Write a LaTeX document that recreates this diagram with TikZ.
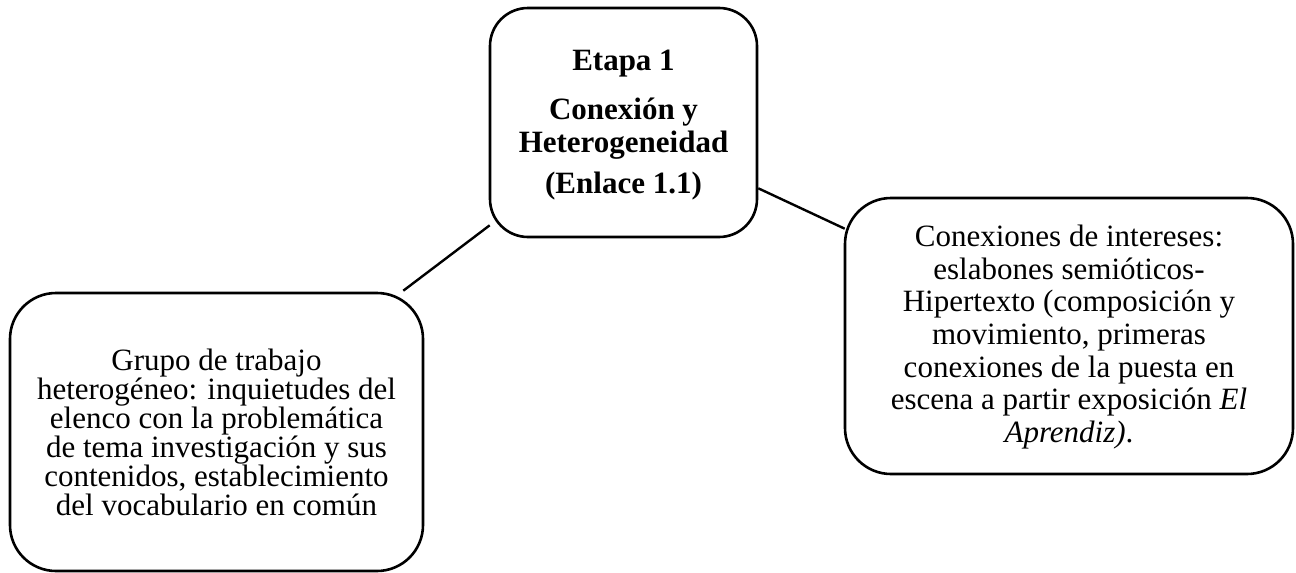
\documentclass[tikz,border=0pt]{standalone}
\usepackage{fontspec}
\setmainfont{Liberation Serif}
\AtBeginDocument{\global\lineskiplimit=-100pt\relax}
\begin{document}
\begin{tikzpicture}[x=1pt,y=-1pt,
  box/.style={draw, line width=2.6pt, rounded corners=#1, inner sep=0pt},
  body/.style={align=center, inner sep=0pt, font=\fontsize{31}{29}\selectfont},
  loose/.style={align=center, inner sep=0pt, font=\fontsize{31}{32.7}\selectfont},
  head/.style={align=center, inner sep=0pt, font=\fontsize{31}{33}\selectfont\bfseries},
  link/.style={line width=2.4pt}]
\useasboundingbox (0,0) rectangle (1296,573);

% stage box
\node[box=38pt, minimum width=267pt, minimum height=229pt] (etapa) at (623.5,122.5) {};
\node[head] (etapatxt) at ([yshift=-3pt]etapa.center)
  {Etapa 1\\[16pt] Conexión y\\ Heterogeneidad\\[8pt] (Enlace 1.1)};

% left box
\node[box=46pt, minimum width=413pt, minimum height=278pt] (grupo) at (216.5,432) {};
\node[body] (grupotxt) at (grupo.center)
  {Grupo de trabajo\\ heterogéneo: inquietudes del\\ elenco con la problemática\\
   de tema investigación y sus\\ contenidos, establecimiento\\ del vocabulario en común};

% right box
\node[box=46pt, minimum width=448pt, minimum height=276pt] (conex) at (1069,336) {};
\node[loose] (conextxt) at ([yshift=-1pt]conex.center)
  {Conexiones de intereses:\\ eslabones semióticos-\\ Hipertexto (composición y\\
   movimiento, primeras\\ conexiones de la puesta en\\ escena a partir exposición \textit{El}\\
   \textit{Aprendiz)}.};

% connectors
\draw[link] ([shift={(1pt,13pt)}]etapa.south west) -- ([shift={(-21pt,1pt)}]grupo.north east);
\draw[link] ([shift={(0pt,50pt)}]etapa.south east) -- ([shift={(1pt,-32pt)}]conex.north west);
\end{tikzpicture}
\end{document}
